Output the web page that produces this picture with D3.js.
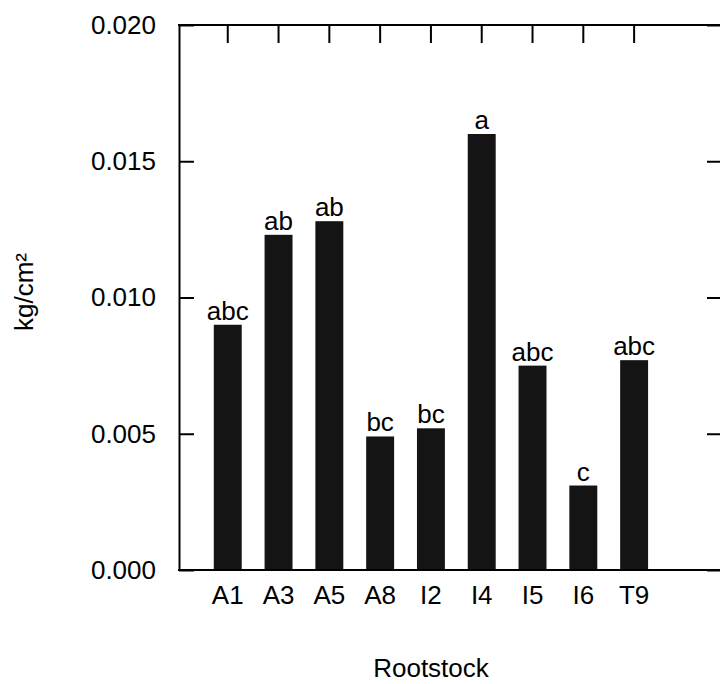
<!DOCTYPE html>
<html>
<head>
<meta charset="utf-8">
<script src="https://cdn.jsdelivr.net/npm/d3@7"></script>
<style>
  body { margin: 0; background: #fff; }
  svg text { font-family: "Liberation Sans", Arial, sans-serif; font-size: 26px; fill: #000; }
  .axis path, .axis line { stroke: #000; stroke-width: 2px; }
</style>
</head>
<body>
<div class="root"></div>
<script>
const rootstocks = ['A1', 'A3', 'A5', 'A8', 'I2', 'I4', 'I5', 'I6', 'T9']
const values = [0.0090, 0.0123, 0.0128, 0.0049, 0.0052, 0.0160, 0.0075, 0.0031, 0.0077]
const letters = ['abc', 'ab', 'ab', 'bc', 'bc', 'a', 'abc', 'c', 'abc']
const yTicks = [0, 0.005, 0.010, 0.015, 0.020]

const margin = { top: 25, bottom: 114, left: 179, right: -2 }
const svgWidth = 720
    , svgHeight = 684
    , graphWidth = svgWidth - margin.left - margin.right
    , graphHeight = svgHeight - margin.top - margin.bottom

const svg = d3.select('.root')
              .append('svg')
              .attr('width', svgWidth)
              .attr('height', svgHeight)

const canvas = svg.append('g')
                  .attr('transform', `translate(${margin.left}, ${margin.top})`)

const scaleX = d3.scaleBand()
                 .domain(rootstocks)
                 .range([0, graphWidth])
                 .paddingInner(0.45)
                 .paddingOuter(1.07)
                 .align(0.32)

const scaleY = d3.scaleLinear()
                 .domain([0, 0.020])
                 .range([graphHeight, 0])

// bars
canvas.append('g')
      .selectAll('rect')
      .data(values)
      .enter()
      .append('rect')
      .attr('x', (d, i) => scaleX(rootstocks[i]))
      .attr('width', scaleX.bandwidth())
      .attr('y', d => scaleY(d))
      .attr('height', d => graphHeight - scaleY(d))
      .attr('fill', '#141414')

// significance letters
canvas.append('g')
      .selectAll('text')
      .data(values)
      .enter()
      .append('text')
      .attr('x', (d, i) => scaleX(rootstocks[i]) + scaleX.bandwidth() / 2)
      .attr('y', d => scaleY(d) - 5)
      .attr('text-anchor', 'middle')
      .text((d, i) => letters[i])

// axes
canvas.append('g')
      .attr('class', 'axis')
      .call(d3.axisLeft(scaleY).tickValues(yTicks).tickFormat(d3.format('.3f'))
              .tickSizeInner(-15).tickSizeOuter(0).tickPadding(23))

canvas.append('g')
      .attr('class', 'axis')
      .attr('transform', `translate(${graphWidth}, 0)`)
      .call(d3.axisRight(scaleY).tickValues(yTicks).tickFormat('')
              .tickSizeInner(-15).tickSizeOuter(0))

canvas.append('g')
      .attr('class', 'axis')
      .call(d3.axisTop(scaleX).tickFormat('')
              .tickSizeInner(-18).tickSizeOuter(0))
      .call(g => g.select('.domain').attr('d', `M-1,0H${graphWidth}`))

canvas.append('g')
      .attr('class', 'axis')
      .attr('transform', `translate(0, ${graphHeight})`)
      .call(d3.axisBottom(scaleX).tickSize(0).tickPadding(16))
      .call(g => g.select('.domain').attr('d', `M-1,0H${graphWidth}`))

canvas.selectAll('.axis text').attr('font-size', null).attr('font-family', null)

// axis titles
svg.append('text')
   .attr('x', 431)
   .attr('y', 677)
   .attr('text-anchor', 'middle')
   .text('Rootstock')

svg.append('g')
   .attr('transform', 'translate(33, 292) rotate(-90)')
   .append('text')
   .attr('text-anchor', 'middle')
   .text('kg/cm²')
</script>
</body>
</html>
